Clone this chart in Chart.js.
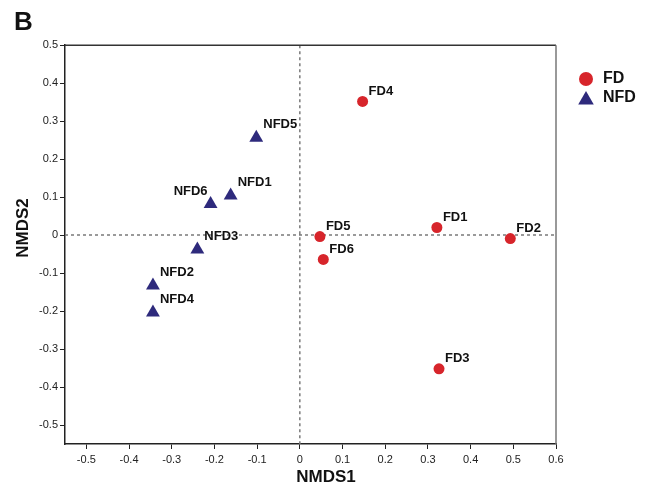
<!DOCTYPE html>
<html>
<head>
<meta charset="utf-8">
<script src="https://cdn.jsdelivr.net/npm/chart.js@4.4.0/dist/chart.umd.min.js"></script>
<style>
html, body { margin: 0; padding: 0; background: #fff; }
#wrap { width: 651px; height: 486px; }
</style>
</head>
<body>
<div id="wrap"><canvas id="nmds" width="651" height="486"></canvas></div>
<script>
// NMDS scores
var fdNames = ["FD1", "FD2", "FD3", "FD4", "FD5", "FD6"];
var fdX = [0.321, 0.493, 0.326, 0.147, 0.047, 0.055];
var fdY = [0.020, -0.009, -0.352, 0.352, -0.004, -0.064];

var nfdNames = ["NFD1", "NFD2", "NFD3", "NFD4", "NFD5", "NFD6"];
var nfdX = [-0.162, -0.344, -0.240, -0.344, -0.102, -0.209];
var nfdY = [0.104, -0.133, -0.038, -0.204, 0.256, 0.082];

var xTicks = [-0.5, -0.4, -0.3, -0.2, -0.1, 0, 0.1, 0.2, 0.3, 0.4, 0.5, 0.6];
var yTicks = [-0.5, -0.4, -0.3, -0.2, -0.1, 0, 0.1, 0.2, 0.3, 0.4, 0.5];

var groupNames = ["FD", "NFD"];
var pointNames = [fdNames, nfdNames];
var xTitle = "NMDS1";
var yTitle = "NMDS2";
var leftLabels = ["NFD6"]; // label sits left of the marker

var RED = "#d7252b";
var NAVY = "#2e2a7c";
var FONT = '"Liberation Sans", Arial, sans-serif';

function toPoints(xs, ys){
  var out = [];
  for (var i = 0; i < xs.length; i++) out.push({x: xs[i], y: ys[i]});
  return out;
}

function fmt(v){ return String(Math.round(v * 10) / 10); }

function drawMarker(ctx, style, x, y, r, color){
  ctx.fillStyle = color;
  ctx.beginPath();
  if (style === "triangle") {
    ctx.moveTo(x, y - r);
    ctx.lineTo(x + r * 0.866, y + r / 2);
    ctx.lineTo(x - r * 0.866, y + r / 2);
    ctx.closePath();
  } else {
    ctx.arc(x, y, r, 0, Math.PI * 2);
  }
  ctx.fill();
}

var extras = {
  id: "extras",
  beforeDatasetsDraw: function(chart){
    var ctx = chart.ctx, a = chart.chartArea;
    var x0 = chart.scales.x.getPixelForValue(0);
    var y0 = chart.scales.y.getPixelForValue(0);
    ctx.save();
    // dotted zero lines
    ctx.strokeStyle = "#7a7a7a";
    ctx.lineWidth = 1.5;
    ctx.setLineDash([3, 3]);
    ctx.beginPath();
    ctx.moveTo(x0, a.top); ctx.lineTo(x0, a.bottom);
    ctx.moveTo(a.left, y0); ctx.lineTo(a.right, y0);
    ctx.stroke();
    ctx.setLineDash([]);
    // top + right frame
    ctx.strokeStyle = "#333";
    ctx.beginPath();
    ctx.moveTo(a.left, a.top); ctx.lineTo(a.right, a.top);
    ctx.stroke();
    ctx.strokeStyle = "#777";
    ctx.beginPath();
    ctx.moveTo(a.right, a.top); ctx.lineTo(a.right, a.bottom);
    ctx.stroke();
    ctx.restore();
  },
  afterDatasetsDraw: function(chart){
    var ctx = chart.ctx;
    ctx.save();
    ctx.font = "bold 13px " + FONT;
    ctx.fillStyle = "#111";
    ctx.textBaseline = "middle";
    chart.data.datasets.forEach(function(ds, i){
      var tri = ds.pointStyle === "triangle";
      chart.getDatasetMeta(i).data.forEach(function(pt, j){
        var name = pointNames[i][j];
        if (leftLabels.indexOf(name) >= 0) {
          ctx.textAlign = "right";
          ctx.fillText(name, pt.x - 3, pt.y - 13);
        } else {
          ctx.textAlign = "left";
          ctx.fillText(name, pt.x + (tri ? 7 : 6), pt.y - (tri ? 13 : 10));
        }
      });
    });
    // legend
    ctx.font = "bold 16px " + FONT;
    ctx.textAlign = "left";
    chart.data.datasets.forEach(function(ds, i){
      var tri = ds.pointStyle === "triangle";
      var cy = 79 + i * 19;
      drawMarker(ctx, ds.pointStyle, 586, tri ? cy + 2 : cy, tri ? 9 : 7, ds.backgroundColor);
      ctx.fillStyle = "#111";
      ctx.fillText(ds.label, 603, cy);
    });
    // axis titles (sit a little off-centre in the original)
    ctx.font = "bold 17px " + FONT;
    ctx.textAlign = "center";
    ctx.fillText(xTitle, 326, 477);
    ctx.translate(23, 228);
    ctx.rotate(-Math.PI / 2);
    ctx.fillText(yTitle, 0, 0);
    ctx.restore();
  }
};

new Chart(document.getElementById("nmds"), {
  type: "scatter",
  data: {
    datasets: [
      {
        label: groupNames[0],
        data: toPoints(fdX, fdY),
        pointStyle: "circle",
        pointRadius: 5.5,
        backgroundColor: RED,
        borderColor: RED,
        borderWidth: 0
      },
      {
        label: groupNames[1],
        data: toPoints(nfdX, nfdY),
        pointStyle: "triangle",
        pointRadius: 8,
        backgroundColor: NAVY,
        borderColor: NAVY,
        borderWidth: 0
      }
    ]
  },
  options: {
    responsive: false,
    animation: false,
    events: [],
    layout: { padding: { left: 14, right: 95, top: 0, bottom: 0 } },
    plugins: {
      legend: { display: false },
      tooltip: { enabled: false },
      title: {
        display: true,
        text: "B",
        align: "start",
        color: "#111",
        font: { family: FONT, size: 26, weight: "bold" },
        padding: { top: 7, bottom: 7 }
      }
    },
    scales: {
      x: {
        type: "linear",
        min: -0.55,
        max: 0.6,
        afterBuildTicks: function(scale){
          scale.ticks = xTicks.map(function(v){ return {value: v}; });
        },
        afterFit: function(scale){ scale.height = 42; },
        grid: { drawOnChartArea: false, drawTicks: true, tickLength: 5, color: "#222", lineWidth: 1 },
        border: { display: true, color: "#222", width: 1.5 },
        ticks: {
          padding: 4,
          color: "#222",
          font: { family: FONT, size: 11 },
          maxRotation: 0,
          autoSkip: false,
          callback: fmt
        },
        title: { display: false }
      },
      y: {
        type: "linear",
        min: -0.55,
        max: 0.5,
        afterBuildTicks: function(scale){
          scale.ticks = yTicks.map(function(v){ return {value: v}; });
        },
        afterFit: function(scale){ scale.width = 51; },
        grid: { drawOnChartArea: false, drawTicks: true, tickLength: 5, color: "#222", lineWidth: 1 },
        border: { display: true, color: "#222", width: 1.5 },
        ticks: {
          padding: 2,
          color: "#222",
          font: { family: FONT, size: 11 },
          autoSkip: false,
          callback: fmt
        },
        title: { display: false }
      }
    }
  },
  plugins: [extras]
});
</script>
</body>
</html>
